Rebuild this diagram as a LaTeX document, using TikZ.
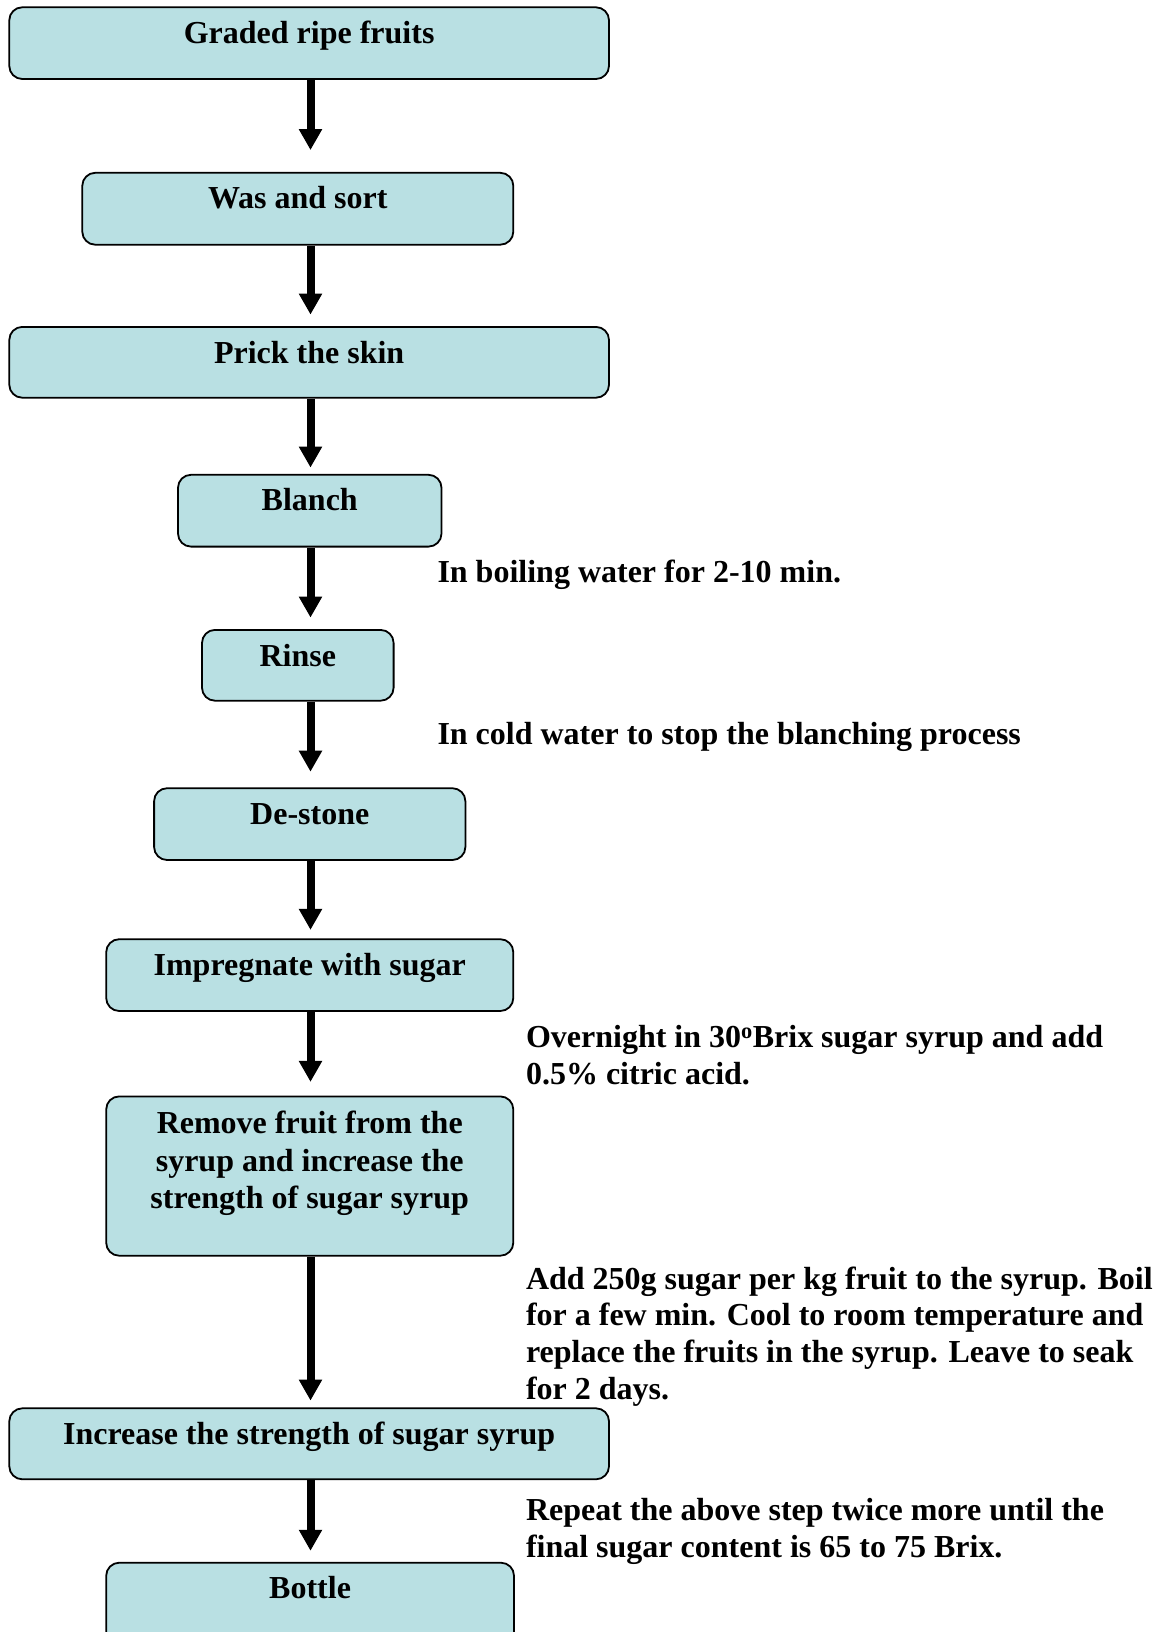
\documentclass[tikz,border=0pt]{standalone}
\usepackage{fontspec}
\setmainfont{Liberation Serif}
\usetikzlibrary{arrows.meta}
\definecolor{boxfill}{RGB}{185,224,227}
\tikzset{
  box/.style={draw=black, line width=1.8pt, fill=boxfill, rounded corners=13pt, inner sep=0pt},
  boxtext/.style={font=\fontsize{32}{37.5}\selectfont\bfseries, inner sep=0pt, align=center, anchor=base},
  sidetext/.style={font=\fontsize{32}{36.6}\selectfont\bfseries, inner sep=0pt, align=left, anchor=base west},
  arr/.style={line width=8pt, -{Triangle[width=22pt,length=21pt]}}
}
\begin{document}
\begin{tikzpicture}[x=1pt,y=-1pt]
\useasboundingbox (0,0) rectangle (1162,1632);
\clip (0,0) rectangle (1162,1632);
\coordinate (ax) at (310.5,0);
% boxes
\node[box, minimum width=599.7pt, minimum height=71.7pt] (b1) at (309.15,43.15) {};
\node[box, minimum width=431pt, minimum height=71.9pt] (b2) at (297.8,208.75) {};
\node[box, minimum width=599.7pt, minimum height=70.8pt] (b3) at (309.15,362.3) {};
\node[box, minimum width=263.5pt, minimum height=71.8pt] (b4) at (309.75,510.7) {};
\node[box, minimum width=191.6pt, minimum height=70.8pt] (b5) at (297.8,665.3) {};
\node[box, minimum width=311.3pt, minimum height=71.8pt] (b6) at (309.75,824.1) {};
\node[box, minimum width=407.1pt, minimum height=71.8pt] (b7) at (309.75,975.1) {};
\node[box, minimum width=407.1pt, minimum height=159.3pt] (b8) at (309.75,1176.05) {};
\node[box, minimum width=599.7pt, minimum height=71pt] (b9) at (309.15,1443.8) {};
\node[box, minimum width=407.8pt, minimum height=97.3pt] (b10) at (310.1,1611.35) {};
% box texts
\node[boxtext] (t1) at ([yshift=-37pt]b1.north) {Graded ripe fruits};
\node[boxtext] (t2) at ([yshift=-37pt]b2.north) {Was and sort};
\node[boxtext] (t3) at ([yshift=-37pt]b3.north) {Prick the skin};
\node[boxtext] (t4) at ([yshift=-37pt]b4.north) {Blanch};
\node[boxtext] (t5) at ([yshift=-37pt]b5.north) {Rinse};
\node[boxtext] (t6) at ([yshift=-37pt]b6.north) {De-stone};
\node[boxtext] (t7) at ([yshift=-37pt]b7.north) {Impregnate with sugar};
\node[boxtext] (t8) at ([yshift=-113pt]b8.north) {Remove fruit from the\\syrup and increase the\\strength of sugar syrup};
\node[boxtext] (t9) at ([yshift=-37pt]b9.north) {Increase the strength of sugar syrup};
\node[boxtext] (t10) at ([yshift=-37pt]b10.north) {Bottle};
% side notes (anchor = baseline of last line)
\node[sidetext] (n1) at (437.3,582.7) {In boiling water for 2-10 min.};
\node[sidetext] (n2) at (437.3,744) {In cold water to stop the blanching process};
\node[sidetext] (n3) at (525.8,1084) {Overnight in 30\textsuperscript{o}Brix sugar syrup and add\\0.5\% citric acid.};
\node[sidetext] (n4) at (525.8,1399) {Add 250g sugar per kg fruit to the syrup. Boil\\for a few min. Cool to room temperature and\\replace the fruits in the syrup. Leave to seak\\for 2 days.};
\node[sidetext] (n5) at (525.8,1557.2) {Repeat the above step twice more until the\\final sugar content is 65 to 75 Brix.};
% arrows
\draw[arr, shorten >=21.8pt] (b1.south -| ax) -- (b2.north -| ax);
\draw[arr, shorten >=11.4pt] (b2.south -| ax) -- (b3.north -| ax);
\draw[arr, shorten >=6.3pt] (b3.south -| ax) -- (b4.north -| ax);
\draw[arr, shorten >=11.4pt] (b4.south -| ax) -- (b5.north -| ax);
\draw[arr, shorten >=15.6pt] (b5.south -| ax) -- (b6.north -| ax);
\draw[arr, shorten >=8.4pt] (b6.south -| ax) -- (b7.north -| ax);
\draw[arr, shorten >=13.6pt] (b7.south -| ax) -- (b8.north -| ax);
\draw[arr, shorten >=6.8pt] (b8.south -| ax) -- (b9.north -| ax);
\draw[arr, shorten >=11pt] (b9.south -| ax) -- (b10.north -| ax);
\end{tikzpicture}
\end{document}
